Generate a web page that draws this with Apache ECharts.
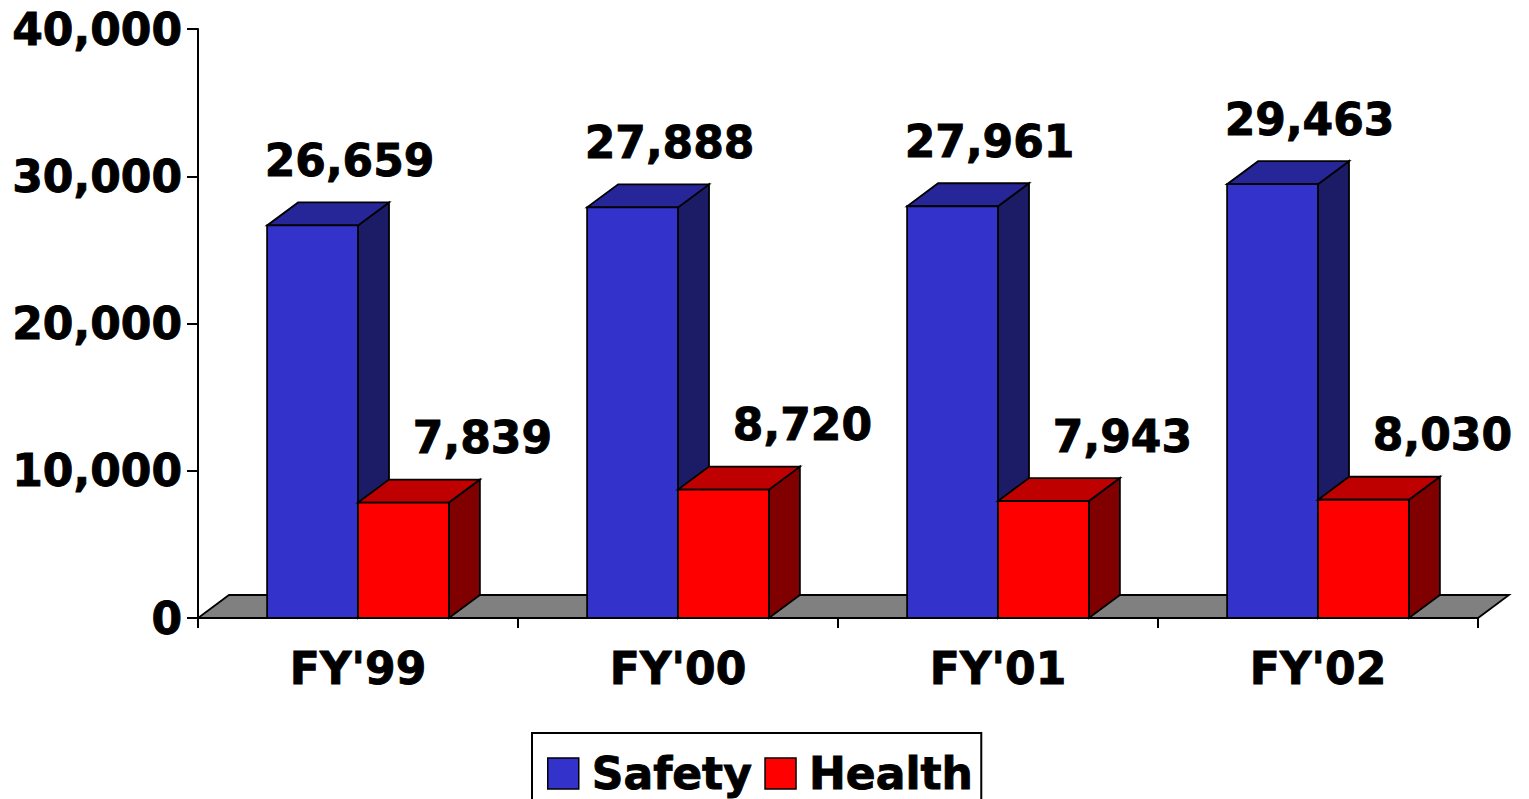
<!DOCTYPE html>
<html>
<head>
<meta charset="utf-8">
<script src="https://cdn.jsdelivr.net/npm/echarts@6/dist/echarts.min.js"></script>
<style>
html,body{margin:0;padding:0;background:#fff;}
#chart{width:1529px;height:799px;}
</style>
</head>
<body>
<div id="chart"></div>
<script>
const categories = ["FY'99", "FY'00", "FY'01", "FY'02"];
const seriesNames = ["Safety", "Health"];
const safety = [26659, 27888, 27961, 29463];
const health = [7839, 8720, 7943, 8030];
const yMin = 0, yMax = 40000, yInterval = 10000;

const FONT = 'DejaVu Sans';
const TB = {textBorderColor: '#000', textBorderWidth: 0.9};
const DX = 31, DY = 23;
const BAR_FRAC = 0.284;
const OUT = {stroke: '#000', lineWidth: 1.8, lineJoin: 'miter'};

function fmt(v) { return v.toLocaleString('en-US'); }

function barRender(sideIdx, cols, labelDx) {
  return function (params, api) {
    const idx = api.value(0), val = api.value(1);
    const top = api.coord([idx, val]);
    const base = api.coord([idx, 0]);
    const bw = api.size([1, 0])[0] * BAR_FRAC;
    const x0 = sideIdx === 0 ? top[0] - bw : top[0];
    const x1 = x0 + bw;
    const yT = top[1], yB = base[1];
    return {
      type: 'group',
      children: [
        {type: 'polygon', shape: {points: [[x1, yT], [x1 + DX, yT - DY], [x1 + DX, yB - DY], [x1, yB]]},
          style: Object.assign({fill: cols.side}, OUT)},
        {type: 'polygon', shape: {points: [[x0, yT], [x1, yT], [x1 + DX, yT - DY], [x0 + DX, yT - DY]]},
          style: Object.assign({fill: cols.top}, OUT)},
        {type: 'rect', shape: {x: x0, y: yT, width: bw, height: yB - yT},
          style: Object.assign({fill: cols.front}, OUT)},
        {type: 'text', style: {text: fmt(val), x: (x0 + x1) / 2 + labelDx, y: yT - 65,
          align: 'center', verticalAlign: 'middle', fontSize: 44, fontWeight: 'bold',
          fontFamily: FONT, fill: '#000', stroke: '#000', lineWidth: 0.9}}
      ]
    };
  };
}

function floorRender(params, api) {
  const cs = params.coordSys;
  const yB = cs.y + cs.height, xL = cs.x, xR = cs.x + cs.width;
  return {
    type: 'polygon',
    shape: {points: [[xL, yB], [xR, yB], [xR + DX, yB - DY], [xL + DX, yB - DY]]},
    style: Object.assign({fill: '#808080'}, OUT)
  };
}

const chart = echarts.init(document.getElementById('chart'), null, {renderer: 'svg'});
chart.setOption({
  animation: false,
  backgroundColor: '#fff',
  grid: {left: 198, right: 51, top: 29, bottom: 181, containLabel: false},
  legend: {
    data: seriesNames,
    left: 532, top: 733,
    orient: 'horizontal',
    icon: 'rect',
    itemWidth: 31, itemHeight: 31, itemGap: 12,
    padding: [18, 8, 20, 15],
    borderColor: '#000', borderWidth: 2,
    itemStyle: {borderColor: '#000', borderWidth: 1.5},
    textStyle: Object.assign({fontSize: 44, fontWeight: 'bold', fontFamily: FONT, color: '#000', padding: [0, 0, 0, 8]}, TB)
  },
  xAxis: {
    type: 'category', data: categories, boundaryGap: true,
    axisLine: {lineStyle: {color: '#000', width: 2}},
    axisTick: {show: true, length: 10, lineStyle: {color: '#000', width: 2}},
    axisLabel: Object.assign({fontSize: 44, fontWeight: 'bold', fontFamily: FONT, color: '#000', margin: 28}, TB)
  },
  yAxis: {
    type: 'value', min: yMin, max: yMax, interval: yInterval,
    splitLine: {show: false},
    axisLine: {show: true, lineStyle: {color: '#000', width: 2}},
    axisTick: {show: true, length: 11, lineStyle: {color: '#000', width: 2}},
    axisLabel: Object.assign({fontSize: 44, fontWeight: 'bold', fontFamily: FONT, color: '#000', margin: 16,
      formatter: v => fmt(v)}, TB)
  },
  series: [
    {type: 'custom', name: 'floor', renderItem: floorRender, data: [[0, 0]], silent: true, z: 1},
    {type: 'custom', name: 'Safety', itemStyle: {color: '#3333CC'}, z: 2,
      renderItem: barRender(0, {front: '#3333CC', top: '#262699', side: '#1C1C66'}, 37),
      encode: {x: 0, y: 1}, data: safety.map((v, i) => [i, v])},
    {type: 'custom', name: 'Health', itemStyle: {color: '#FF0000'}, z: 3,
      renderItem: barRender(1, {front: '#FF0000', top: '#BF0000', side: '#800000'}, 79),
      encode: {x: 0, y: 1}, data: health.map((v, i) => [i, v])}
  ]
});
</script>
</body>
</html>
